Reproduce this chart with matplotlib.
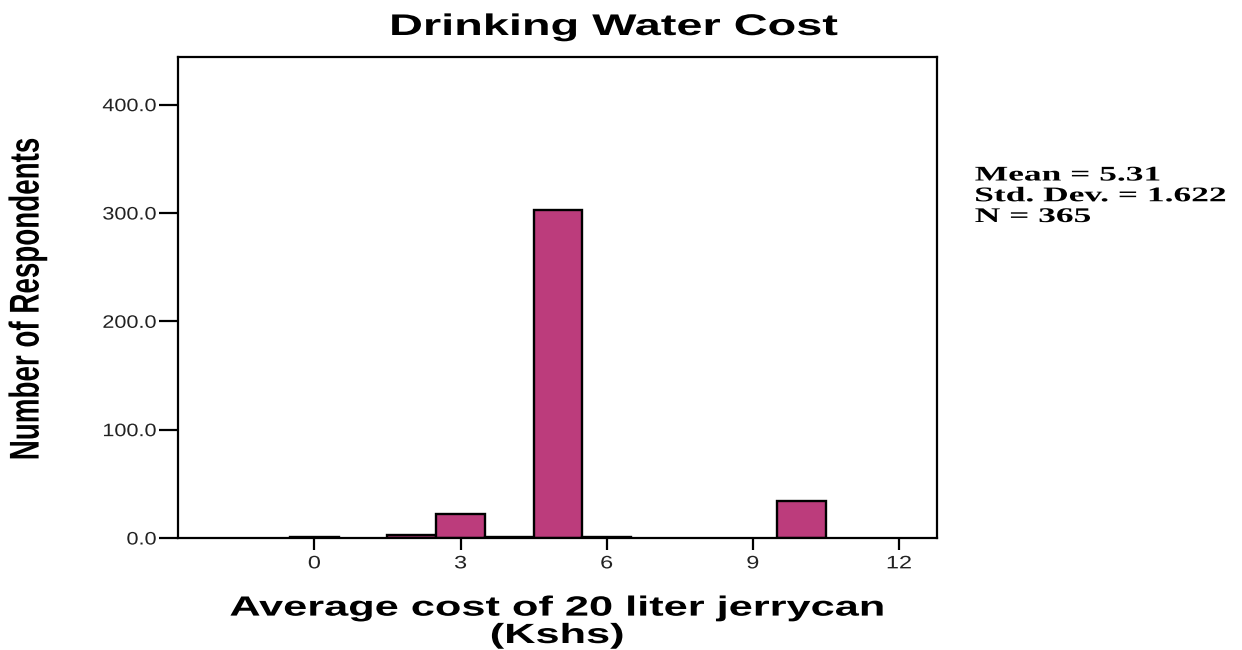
import matplotlib
matplotlib.use("Agg")
import matplotlib.pyplot as plt
from matplotlib.patheffects import AbstractPathEffect
from matplotlib.transforms import Affine2D

# Data
cost_values = [0, 2, 3, 4, 5, 6, 10]
respondents = [1, 3, 22, 1, 303, 1, 34]
x_ticks = [0, 3, 6, 9, 12]
y_ticks = [0, 100, 200, 300, 400]
title = "Drinking Water Cost"
x_label = "Average cost of 20 liter jerrycan\n(Kshs)"
y_label = "Number of Respondents"
stats_text = "Mean = 5.31\nStd. Dev. = 1.622\nN = 365"


class StretchX(AbstractPathEffect):
    """Draw text stretched horizontally (the reference image is widened)."""

    def __init__(self, sx, anchor="center"):
        super().__init__()
        self.sx = sx
        self.anchor = anchor

    def draw_path(self, renderer, gc, tpath, affine, rgbFace=None):
        bb = tpath.get_extents(affine)
        if self.anchor == "left":
            x0 = bb.x0
        elif self.anchor == "right":
            x0 = bb.x1
        else:
            x0 = 0.5 * (bb.x0 + bb.x1)
        new_aff = affine + Affine2D().translate(-x0, 0).scale(self.sx, 1.0).translate(x0, 0)
        renderer.draw_path(gc, tpath, new_aff, rgbFace)


W, H = 1242, 650
fig = plt.figure(figsize=(W / 100, H / 100), dpi=100)
ax = fig.add_axes([178 / W, 1 - 538 / H, (937 - 178) / W, (538 - 57) / H])

ax.bar(cost_values, respondents, width=1.0, color="#BC3C7C",
       edgecolor="black", linewidth=1.7, align="center")

ax.set_xlim(-2.8, 12.78)
ax.set_ylim(0, 444)
ax.set_xticks(x_ticks)
ax.set_xticklabels([str(t) for t in x_ticks])
ax.set_yticks(y_ticks)
ax.set_yticklabels([f"{t:.1f}" for t in y_ticks])

for s in ax.spines.values():
    s.set_linewidth(1.6)
ax.tick_params(axis="x", length=8.5, width=1.6, labelsize=13, pad=4,
               labelcolor="#222222")
ax.tick_params(axis="y", length=13.5, width=1.6, labelsize=13, pad=2,
               labelcolor="#222222")
for lbl in ax.get_xticklabels():
    lbl.set_fontfamily("Liberation Sans")
    lbl.set_path_effects([StretchX(1.3, "center")])
for lbl in ax.get_yticklabels():
    lbl.set_fontfamily("Liberation Sans")
    lbl.set_path_effects([StretchX(1.2, "right")])

fig.text(614 / W, 1 - 35 / H, title, fontsize=21.5, fontweight="bold",
         family="Liberation Sans", ha="center", va="baseline",
         path_effects=[StretchX(1.57, "center")])

fig.text(557 / W, 1 - 643 / H, x_label, fontsize=20, fontweight="bold",
         family="Liberation Sans", ha="center", va="baseline",
         multialignment="center", linespacing=1.07,
         path_effects=[StretchX(1.56, "center")])

fig.text(28 / W, 1 - 299 / H, y_label, fontsize=20, fontweight="bold",
         family="Liberation Sans", ha="center", va="center", rotation=90,
         path_effects=[StretchX(1.5, "center")])

fig.text(975 / W, 1 - 222 / H, stats_text, fontsize=15, fontweight="bold",
         family="Liberation Serif", ha="left", va="baseline",
         linespacing=1.05, path_effects=[StretchX(1.7, "left")])

fig.savefig("out.png", dpi=100)
